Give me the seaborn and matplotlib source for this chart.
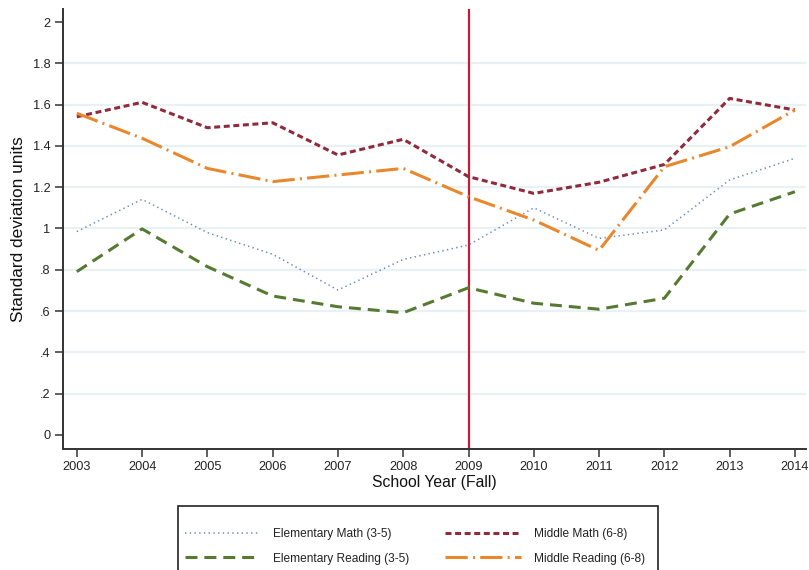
import matplotlib
matplotlib.use("Agg")
import matplotlib.pyplot as plt
from matplotlib.patches import Rectangle
import seaborn as sns
import pandas as pd

# School years (fall) and effect sizes in standard deviation units
years = [2003, 2004, 2005, 2006, 2007, 2008, 2009, 2010, 2011, 2012, 2013, 2014]
elem_math = [0.985, 1.141, 0.98, 0.875, 0.702, 0.85, 0.92, 1.10, 0.952, 0.993, 1.235, 1.34]
mid_math = [1.541, 1.611, 1.488, 1.512, 1.356, 1.432, 1.251, 1.170, 1.224, 1.310, 1.630, 1.574]
elem_read = [0.791, 0.998, 0.815, 0.673, 0.621, 0.592, 0.713, 0.638, 0.609, 0.662, 1.070, 1.178]
mid_read = [1.558, 1.437, 1.291, 1.227, 1.259, 1.291, 1.154, 1.041, 0.894, 1.299, 1.396, 1.574]

series_names = ["Elementary Math (3-5)", "Middle Math (6-8)",
                "Elementary Reading (3-5)", "Middle Reading (6-8)"]
y_ticks = [0, 0.2, 0.4, 0.6, 0.8, 1.0, 1.2, 1.4, 1.6, 1.8, 2.0]
y_tick_labels = ["0", ".2", ".4", ".6", ".8", "1", "1.2", "1.4", "1.6", "1.8", "2"]
policy_year = 2009

df = pd.DataFrame({
    "year": years * 4,
    "value": elem_math + mid_math + elem_read + mid_read,
    "series": sum([[n] * len(years) for n in series_names], []),
})

sns.set_theme(style="white")
plt.rcParams["font.family"] = ["Liberation Sans", "DejaVu Sans"]
plt.rcParams["lines.scale_dashes"] = False

styles = {
    "Elementary Math (3-5)": dict(color="#6a8cb0", linewidth=1.1, linestyle=(0, (1.0, 2.4))),
    "Middle Math (6-8)": dict(color="#8e2b3c", linewidth=2.2, linestyle=(0, (4.3, 2.6))),
    "Elementary Reading (3-5)": dict(color="#567a32", linewidth=2.2, linestyle=(0, (8.6, 5.0))),
    "Middle Reading (6-8)": dict(color="#e8872b", linewidth=2.2,
                                 linestyle=(0, (16.0, 3.8, 1.4, 3.8))),
}

W, H = 809, 570
fig = plt.figure(figsize=(W / 100, H / 100), dpi=100)
ax = fig.add_axes([0.078, 0.2123, 0.9183, 0.7719])

for name in series_names:
    sub = df[df["series"] == name]
    sns.lineplot(data=sub, x="year", y="value", ax=ax, label=name, **styles[name])

ax.axvline(policy_year, color="#c8193a", linewidth=1.6, zorder=1)

ax.set_xlim(2002.79, 2014.17)
ax.set_ylim(-0.068, 2.063)
ax.set_xticks(years)
ax.set_xticklabels([str(y) for y in years])
ax.set_yticks(y_ticks)
ax.set_yticklabels(y_tick_labels)

for v in y_ticks[1:-1]:
    ax.axhline(v, color="#e8f1f3", linewidth=1.6, zorder=0)

for side in ["top", "right"]:
    ax.spines[side].set_visible(False)
for side in ["left", "bottom"]:
    ax.spines[side].set_color("#333333")
    ax.spines[side].set_linewidth(1.4)

ax.tick_params(axis="both", which="major", direction="out", length=6, width=1.1,
               color="#333333", labelsize=9.2, labelcolor="#222222", pad=3,
               left=True, bottom=True)

ax.set_xlabel("School Year (Fall)", fontsize=11.3, color="#111111", labelpad=1)
ax.set_ylabel("Standard deviation units", fontsize=12.4, color="#111111", labelpad=5)

handles, labels = ax.get_legend_handles_labels()
ax.get_legend().remove()
order = [0, 2, 1, 3]
leg = fig.legend([handles[i] for i in order], [labels[i] for i in order],
                 ncol=2, loc="upper left",
                 bbox_to_anchor=(185 / W, 1 - 528 / H),
                 frameon=False, fontsize=8.6,
                 handlelength=6.3, handletextpad=1.1, columnspacing=3.0,
                 labelspacing=1.05, borderpad=0, borderaxespad=0)
for t in leg.get_texts():
    t.set_color("#222222")

# Legend box
fig.patches.append(Rectangle((178 / W, -0.02), (658 - 178) / W, 0.02 + (H - 506) / H,
                             transform=fig.transFigure, facecolor="none",
                             edgecolor="#222222", linewidth=1.2, zorder=0))

fig.savefig("out.png", dpi=100, facecolor="white")
